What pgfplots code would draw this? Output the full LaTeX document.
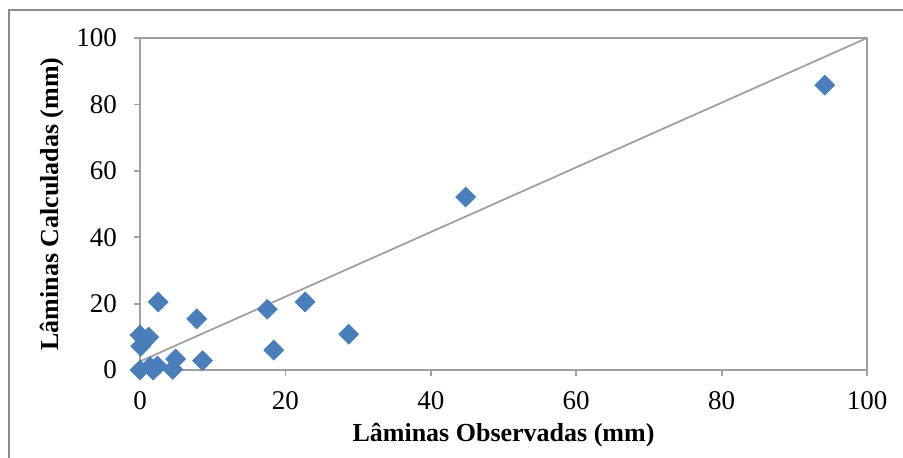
\documentclass[border=0pt]{standalone}
\usepackage{fontspec}
\setmainfont{Liberation Serif}
\usepackage{pgfplots}
\pgfplotsset{compat=1.18}
\definecolor{ptblue}{HTML}{4A7EBB}
\definecolor{axgray}{HTML}{A0A0A0}
\definecolor{framegray}{HTML}{8C8C8C}

\pgfplotstableread{
x y
94.2 85.8
44.8 52.1
28.7 10.8
22.7 20.5
17.5 18.3
18.4 6.0
7.8 15.4
8.6 2.8
2.5 20.5
0.0 10.5
1.2 9.9
0.1 7.2
0.0 0.0
1.4 1.0
1.8 0.0
2.4 1.2
4.9 3.3
4.5 0.2
}\lamdata

\begin{document}
\begin{tikzpicture}
\useasboundingbox (0,0) rectangle (451.5pt,-228.5pt);
% chart frame (cut at the right and bottom)
\draw[framegray, line width=0.7pt] (4.5pt,-5pt) rectangle (480pt,-260pt);
\begin{axis}[
    at={(70pt,-185pt)}, anchor=south west,
    scale only axis,
    width=363.5pt, height=166pt,
    xmin=0, xmax=100, ymin=0, ymax=100,
    xtick={0,20,...,100}, ytick={0,20,...,100},
    axis line style={axgray, line width=0.9pt},
    tick style={axgray, line width=0.9pt},
    major tick length=3pt,
    tick align=outside,
    xtick pos=bottom, ytick pos=left,
    /pgf/number format/assume math mode=true,
    tick label style={font=\fontsize{13.5}{14}\selectfont},
    xticklabel style={yshift=-4pt},
    yticklabel style={xshift=-5pt},
    label style={font=\bfseries\fontsize{13}{14}\selectfont},
    xlabel={Lâminas Observadas (mm)},
    ylabel={Lâminas Calculadas (mm)},
    ylabel style={yshift=-0.5pt},
    clip mode=individual,
]
\addplot[axgray, line width=0.9pt, no marks] coordinates {(0,2.6) (100,100)};
\addplot[only marks, mark=square*, mark size=3.5pt, ptblue,
  mark options={rotate=45, draw=ptblue, fill=ptblue}] table[x=x, y=y] {\lamdata};
\end{axis}
\end{tikzpicture}
\end{document}
